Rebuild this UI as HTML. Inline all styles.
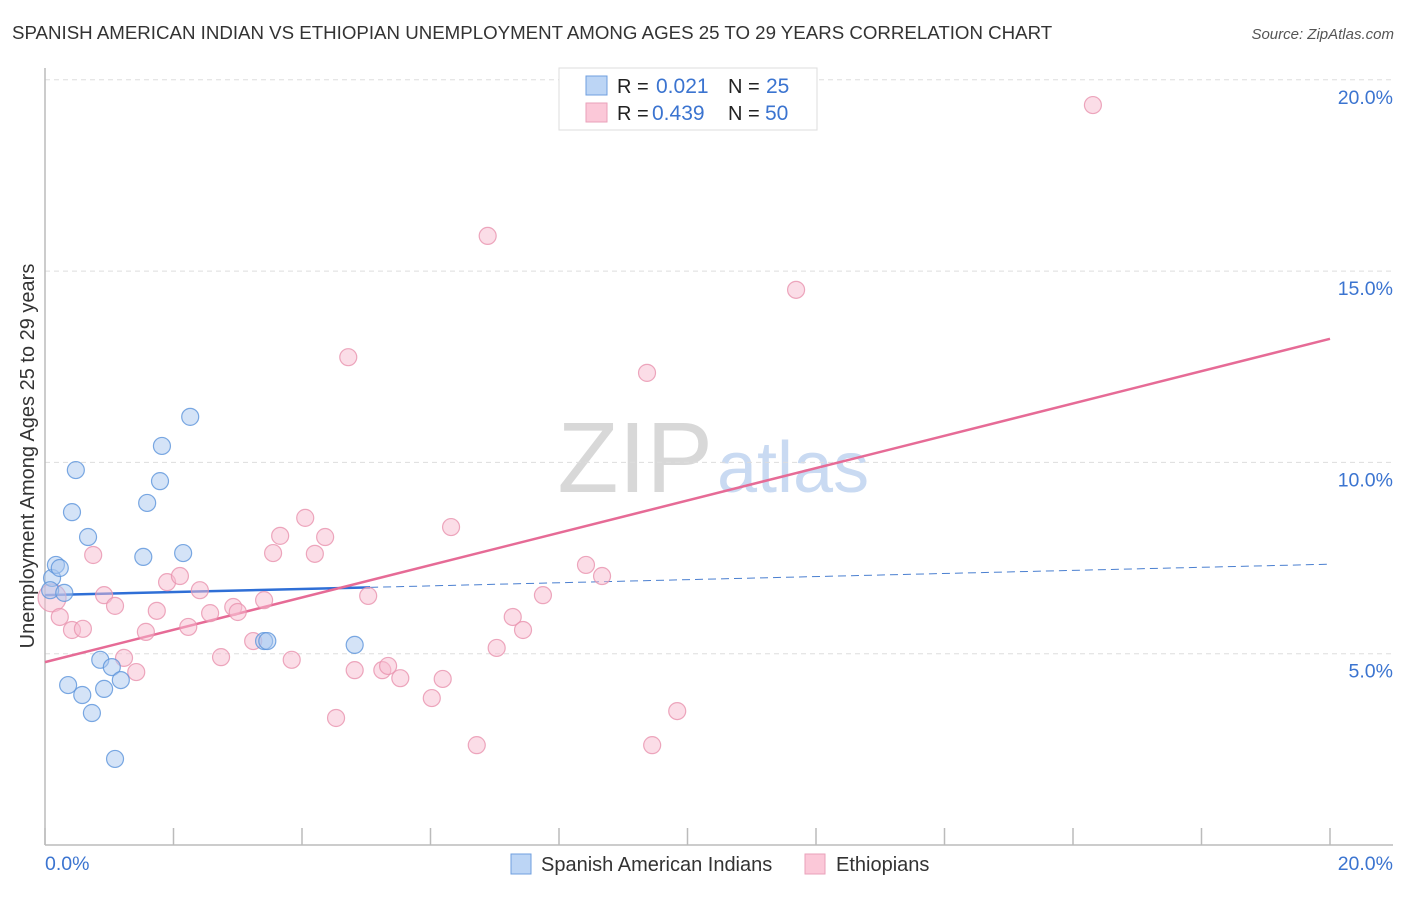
<!DOCTYPE html>
<html><head><meta charset="utf-8"><style>
body{margin:0;background:#fff;font-family:"Liberation Sans",sans-serif;}
svg text{font-family:"Liberation Sans",sans-serif;}
</style></head><body>
<svg id="chart" width="1406" height="892" viewBox="0 0 1406 892" xmlns="http://www.w3.org/2000/svg">
<text x="12" y="39" font-size="18.7" fill="#333">SPANISH AMERICAN INDIAN VS ETHIOPIAN UNEMPLOYMENT AMONG AGES 25 TO 29 YEARS CORRELATION CHART</text>
<text x="1394" y="39" font-size="15" fill="#555" text-anchor="end" font-style="italic">Source: ZipAtlas.com</text>
<g>
<text x="713" y="492" font-size="100" fill="#d8d8d8" text-anchor="end" font-family="Liberation Serif, serif">ZIP</text>
<text x="717" y="492" font-size="72" fill="#c9daf2">atlas</text>
</g>
<g id="grid"></g>
<g id="axes"></g>
<g id="lines"></g>
<g id="points"></g>
<text transform="translate(34,456) rotate(-90)" font-size="20" fill="#333" text-anchor="middle">Unemployment Among Ages 25 to 29 years</text>
<g>
<rect x="559" y="68" width="258" height="62" fill="#fff" stroke="#ddd"/>
<rect x="586" y="76" width="21" height="19" fill="#bcd5f5" stroke="#6f9fdf"/>
<rect x="586" y="103" width="21" height="19" fill="#fbc8d8" stroke="#eaa1ba"/>
<text x="617" y="93" font-size="20" fill="#222">R =</text>
<text x="656" y="93" font-size="21" fill="#3b74d0">0.021</text>
<text x="728" y="93" font-size="20" fill="#222">N =</text>
<text x="766" y="93" font-size="21" fill="#3b74d0">25</text>
<text x="617" y="120" font-size="20" fill="#222">R =</text>
<text x="652" y="120" font-size="21" fill="#3b74d0">0.439</text>
<text x="728" y="120" font-size="20" fill="#222">N =</text>
<text x="765" y="120" font-size="21" fill="#3b74d0">50</text>
</g>
<g>
<rect x="511" y="854" width="20" height="20" fill="#bcd5f5" stroke="#6f9fdf"/>
<text x="541" y="871" font-size="20" fill="#333">Spanish American Indians</text>
<rect x="805" y="854" width="20" height="20" fill="#fbc8d8" stroke="#eaa1ba"/>
<text x="836" y="871" font-size="20" fill="#333">Ethiopians</text>
</g>
</svg>
<script>
const blueX=[0.11,0.17,0.23,0.08,0.30,0.48,0.42,0.67,0.36,0.58,0.73,0.86,0.92,1.04,1.18,1.09,1.53,1.59,1.79,1.82,2.15,2.26,3.41,3.46,4.82];
const blueY=[6.98,7.32,7.24,6.66,6.59,9.80,8.70,8.05,4.18,3.92,3.45,4.84,4.08,4.65,4.31,2.25,7.53,8.94,9.51,10.43,7.63,11.19,5.33,5.33,5.23];
const pinkX=[0.11,0.23,0.42,0.59,0.75,0.92,1.09,1.23,1.42,1.57,1.74,1.90,2.10,2.23,2.41,2.57,2.74,2.93,3.00,3.24,3.41,3.55,3.66,3.84,4.05,4.20,4.36,4.53,4.72,4.82,5.03,5.25,5.34,5.53,6.02,6.19,6.32,6.72,6.89,7.03,7.28,7.44,7.75,8.42,8.67,9.37,9.45,9.84,11.69,16.31];
const pinkY=[6.46,5.96,5.62,5.65,7.58,6.53,6.25,4.89,4.52,5.57,6.12,6.87,7.03,5.70,6.66,6.06,4.91,6.22,6.09,5.33,6.40,7.63,8.08,4.84,8.55,7.61,8.05,3.32,12.75,4.57,6.51,4.57,4.68,4.36,3.84,4.34,8.31,2.61,15.92,5.15,5.96,5.62,6.53,7.32,7.03,12.34,2.61,3.50,14.51,19.34];
const blueTrend=[6.53,7.34];
const pinkTrend=[4.78,13.23];
const blueSolidEnd=5.06;
const yTicks=[5,10,15,20];
const yTickLabels=["5.0%","10.0%","15.0%","20.0%"];
const xTickVals=[0,2,4,6,8,10,12,14,16,18,20];

const NS="http://www.w3.org/2000/svg";
const sx=v=>45+v/20*1285;
const sy=v=>845-v/5*191.3;
function mk(tag,attrs,parent){const e=document.createElementNS(NS,tag);for(const k in attrs)e.setAttribute(k,attrs[k]);document.getElementById(parent).appendChild(e);return e;}

yTicks.forEach((t,i)=>{
  const g=mk('line',{x1:45,x2:1393,y1:sy(t),y2:sy(t),stroke:'#ddd','stroke-dasharray':'5,4'},'grid');
  
  
  const l=mk('text',{x:1393,y:sy(t)+24,'font-size':19.5,fill:'#3b74d0','text-anchor':'end'},'axes');
  l.textContent=yTickLabels[i];
  
  
});
const ax=mk('line',{x1:45,x2:45,y1:68,y2:845,stroke:'#bbb','stroke-width':1.5},'axes');


const bx=mk('line',{x1:45,x2:1393,y1:845,y2:845,stroke:'#bbb','stroke-width':1.5},'axes');


xTickVals.forEach(t=>{
  const k=mk('line',{x1:sx(t),x2:sx(t),y1:828,y2:845,stroke:'#bbb','stroke-width':1.5},'axes');
  
  
});
const xl0=mk('text',{x:45,y:870,'font-size':19.5,fill:'#3b74d0'},'axes');xl0.textContent='0.0%';


const xl1=mk('text',{x:1393,y:870,'font-size':19.5,fill:'#3b74d0','text-anchor':'end'},'axes');xl1.textContent='20.0%';



function dot(x,y,r,fill,stroke,name){
  const c=mk('circle',{cx:sx(x),cy:sy(y),r:r,fill:fill,'fill-opacity':0.5,stroke:stroke,'stroke-opacity':0.8,'stroke-width':1.2},'points');
  
  
}
pinkX.forEach((x,i)=>dot(x,pinkY[i],i===0?14:8.5,'#f7bccf','#e892ae','ethiopian-point'));
blueX.forEach((x,i)=>dot(x,blueY[i],8.5,'#aac8f0','#5b93db','spanish-american-indian-point'));

const bt=x=>blueTrend[0]+(blueTrend[1]-blueTrend[0])*x/20;
const pt=x=>pinkTrend[0]+(pinkTrend[1]-pinkTrend[0])*x/20;
const l1=mk('line',{x1:sx(0),y1:sy(bt(0)),x2:sx(blueSolidEnd),y2:sy(bt(blueSolidEnd)),stroke:'#2f6fd6','stroke-width':2.5},'lines');


const l2=mk('line',{x1:sx(blueSolidEnd),y1:sy(bt(blueSolidEnd)),x2:sx(20),y2:sy(bt(20)),stroke:'#4a7fd0','stroke-width':1,'stroke-dasharray':'8,5'},'lines');


const l3=mk('line',{x1:sx(0),y1:sy(pt(0)),x2:sx(20),y2:sy(pt(20)),stroke:'#e66b96','stroke-width':2.5},'lines');


</script>
</body></html>
